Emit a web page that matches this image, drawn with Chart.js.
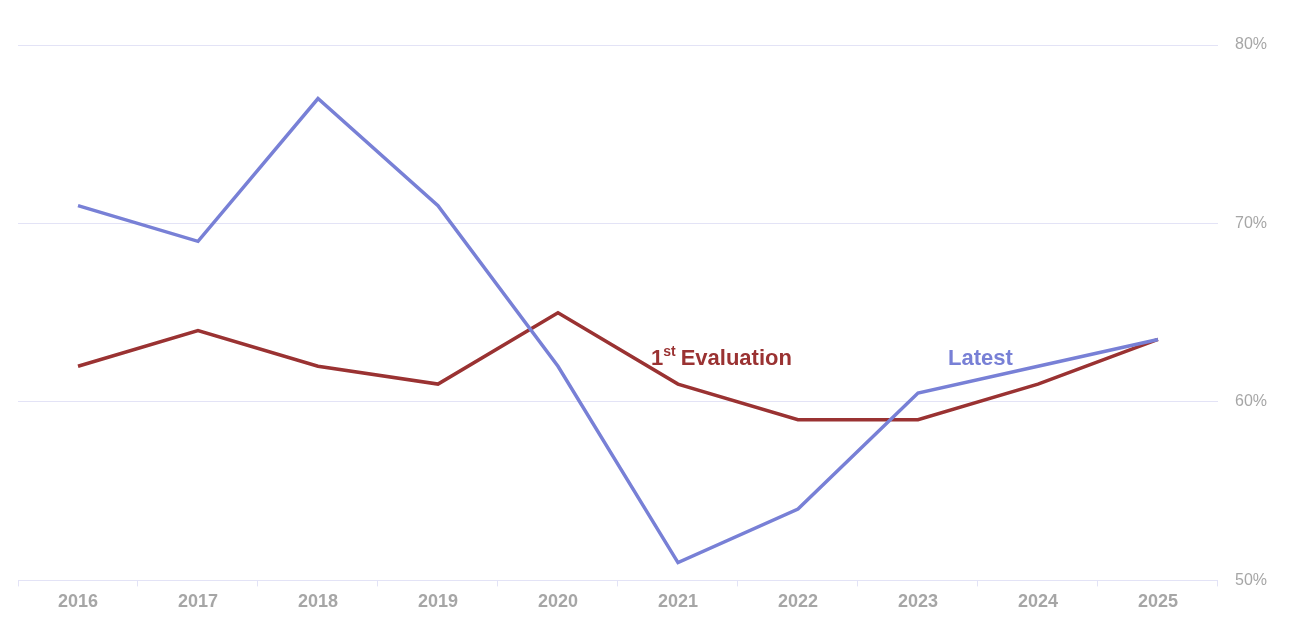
<!DOCTYPE html>
<html lang="en">
<head>
    <meta charset="UTF-8">
    <title>Evaluation vs Latest</title>
    <script src="https://cdn.jsdelivr.net/npm/chart.js"></script>
    <style>
        html, body { margin: 0; padding: 0; background: #fff; }
        #wrap { width: 1293px; height: 618px; }
    </style>
</head>
<body>
    <div id="wrap"><canvas id="evalChart"></canvas></div>

    <script>
        const years = ['2016', '2017', '2018', '2019', '2020', '2021', '2022', '2023', '2024', '2025'];
        const latest = [71, 69, 77, 71, 62, 51, 54, 60.5, 62, 63.5];
        const firstEval = [62, 64, 62, 61, 65, 61, 59, 59, 61, 63.5];
        const yTicks = [50, 60, 70, 80];

        const gridColor = '#e3e3f6';
        const blue = '#7880d6';
        const red = '#9a3232';

        // series names drawn next to the lines
        const seriesLabels = {
            id: 'seriesLabels',
            afterDatasetsDraw(chart) {
                const { ctx, scales } = chart;
                const x = scales.x, y = scales.y;
                ctx.save();
                ctx.textBaseline = 'alphabetic';
                ctx.textAlign = 'left';

                // "1st Evaluation"
                let px = x.getPixelForValue(5) - 27;
                const py = y.getPixelForValue(62.05);
                ctx.fillStyle = red;
                ctx.font = 'bold 22px "Liberation Sans", Arial, sans-serif';
                ctx.fillText('1', px, py);
                px += ctx.measureText('1').width;
                ctx.font = 'bold 14px "Liberation Sans", Arial, sans-serif';
                ctx.fillText('st', px, py - 9);
                px += ctx.measureText('st').width + 5;
                ctx.font = 'bold 22px "Liberation Sans", Arial, sans-serif';
                ctx.fillText('Evaluation', px, py);

                // "Latest"
                ctx.fillStyle = blue;
                ctx.fillText('Latest', x.getPixelForValue(7) + 30, py);
                ctx.restore();
            }
        };

        const ctx = document.getElementById('evalChart').getContext('2d');
        const evalChart = new Chart(ctx, {
            type: 'line',
            data: {
                labels: years,
                datasets: [{
                    label: 'Latest',
                    data: latest,
                    borderColor: blue,
                    borderWidth: 3.5,
                    pointRadius: 0,
                    tension: 0,
                    fill: false
                }, {
                    label: '1st Evaluation',
                    data: firstEval,
                    borderColor: red,
                    borderWidth: 3.5,
                    pointRadius: 0,
                    tension: 0,
                    fill: false
                }]
            },
            options: {
                responsive: true,
                maintainAspectRatio: false,
                animation: false,
                layout: { padding: { left: 18, right: 9, top: 45, bottom: 0 } },
                plugins: {
                    legend: { display: false },
                    tooltip: { enabled: false }
                },
                scales: {
                    x: {
                        offset: true,
                        grid: {
                            offset: true,
                            drawOnChartArea: false,
                            drawTicks: true,
                            tickLength: 6,
                            color: gridColor
                        },
                        border: { display: true, color: gridColor },
                        ticks: {
                            color: '#a6a6a6',
                            padding: 5,
                            font: { family: '"Liberation Sans", Arial, sans-serif', size: 18, weight: 'bold' }
                        }
                    },
                    y: {
                        position: 'right',
                        min: 50,
                        max: 80,
                        afterBuildTicks(axis) {
                            axis.ticks = yTicks.map(v => ({ value: v }));
                        },
                        grid: { color: gridColor, drawTicks: false },
                        border: { display: false },
                        ticks: {
                            color: '#a6a6a6',
                            padding: 17,
                            callback: v => v + '%',
                            font: { family: '"Liberation Sans", Arial, sans-serif', size: 16 }
                        }
                    }
                }
            },
            plugins: [seriesLabels]
        });
    </script>
</body>
</html>
